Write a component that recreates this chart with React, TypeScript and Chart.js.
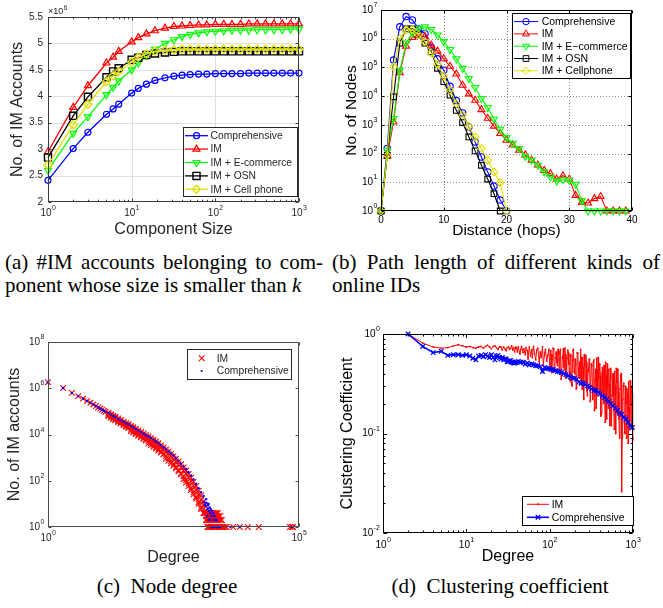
import React, { useEffect, useRef } from 'react';
import { Chart, registerables } from 'chart.js';

Chart.register(...registerables);

const SANS = '"Liberation Sans", Arial, Helvetica, sans-serif';
const SERIF = '"Liberation Serif", "Times New Roman", Times, serif';

// ================= (a) #IM accounts vs component size =================
const componentSize = [1, 2, 3, 5, 6, 7, 10, 12, 15, 19, 25, 32, 40, 50, 63, 79, 100, 126, 158, 200, 251, 316, 398, 501, 631, 794, 1000];
const aComprehensive = [2.41, 3.01, 3.32, 3.66, 3.76, 3.85, 4.06, 4.15, 4.23, 4.30, 4.35, 4.38, 4.40, 4.41, 4.42, 4.42, 4.43, 4.43, 4.43, 4.43, 4.44, 4.44, 4.44, 4.44, 4.44, 4.44, 4.44];
const aIM = [2.95, 3.79, 4.20, 4.63, 4.74, 4.85, 5.03, 5.11, 5.18, 5.24, 5.29, 5.32, 5.33, 5.34, 5.35, 5.35, 5.36, 5.36, 5.36, 5.36, 5.37, 5.37, 5.37, 5.37, 5.37, 5.37, 5.37];
const aEcommerce = [2.60, 3.30, 3.61, 4.03, 4.17, 4.29, 4.50, 4.63, 4.77, 4.89, 5.00, 5.07, 5.13, 5.17, 5.20, 5.22, 5.23, 5.24, 5.25, 5.25, 5.25, 5.26, 5.26, 5.26, 5.26, 5.27, 5.27];
const aOSN = [2.84, 3.63, 3.99, 4.36, 4.47, 4.53, 4.69, 4.73, 4.78, 4.81, 4.83, 4.84, 4.85, 4.85, 4.85, 4.85, 4.85, 4.85, 4.85, 4.85, 4.85, 4.85, 4.85, 4.85, 4.85, 4.85, 4.85];
const aCellphone = [2.70, 3.46, 3.85, 4.28, 4.39, 4.47, 4.65, 4.74, 4.80, 4.85, 4.87, 4.88, 4.89, 4.89, 4.89, 4.89, 4.89, 4.89, 4.89, 4.89, 4.89, 4.89, 4.89, 4.89, 4.89, 4.89, 4.89];
const aYTicks = [2, 2.5, 3, 3.5, 4, 4.5, 5, 5.5];
const aYTickLabels = ['2', '2.5', '3', '3.5', '4', '4.5', '5', '5.5'];
const aXTicks = [1, 10, 100, 1000];
const aXTickExp = ['0', '1', '2', '3'];

// ================= (b) path length =================
const hops = [0, 1, 2, 3, 4, 5, 6, 7, 8, 9, 10, 11, 12, 13, 14, 15, 16, 17, 18, 19, 20, 21, 22, 23, 24, 25, 26, 27, 28, 29, 30, 31, 32, 33, 34, 35, 36, 37, 38, 39];
const bComprehensive = [1, 150, 180000, 2600000, 5900000, 4500000, 2200000, 1500000, 500000, 200000, 80000, 22000, 7000, 2600, 850, 255, 76, 23, 7.4, 2.4, 1];
const bIM = [1, 83, 1260, 65000, 550000, 1100000, 1400000, 1200000, 600000, 370000, 200000, 110000, 59000, 24000, 12000, 7200, 3400, 1700, 900, 500, 290, 200, 130, 90, 59, 40, 26, 20, 13, 17, 13, 3.5, 2, 1.9, 2.7, 3.2, 1, 1, 1, 1];
const bEcommerce = [1, 130, 1660, 76000, 700000, 1600000, 2300000, 2600000, 2100000, 1350000, 790000, 420000, 200000, 93000, 41000, 20000, 8300, 4000, 1600, 700, 360, 230, 150, 80, 60, 39, 23, 15.5, 11, 12.3, 11.7, 8.5, 2.3, 1, 1, 1, 1, 1, 1, 1];
const bOSN = [1, 87, 9500, 700000, 2200000, 2200000, 1350000, 700000, 350000, 93000, 32000, 10800, 3200, 1200, 380, 124, 39, 13, 4, 1];
const bCellphone = [1, 87, 105000, 1000000, 2000000, 2100000, 1350000, 800000, 320000, 130000, 50000, 16000, 5500, 2200, 900, 380, 150, 59, 23, 9.7, 1];
const bXTicks = [0, 10, 20, 30, 40];
const bYTicks = [1, 10, 100, 1000, 10000, 100000, 1000000, 10000000];
const bYTickExp = ['0', '1', '2', '3', '4', '5', '6', '7'];

// ================= (c) node degree =================
const cDegree = [1, 2, 3, 4, 5, 6, 7, 8, 9, 10, 11, 12, 13, 14, 16, 18, 20, 22, 25, 28, 32, 36, 40, 45, 50, 56, 63, 71, 80, 89, 100, 112, 126, 141, 158, 178, 200, 224, 251, 282, 316, 355, 398, 447, 501, 562, 631, 708, 794, 891, 1000, 1122, 1259, 1413, 1585];
const cIMMid = [1820000, 1023000, 631000, 457000, 355000, 282000, 234000, 200000, 170000, 148000, 132000, 117000, 105000, 95500, 79400, 67600, 58900, 52500, 43700, 38000, 31600, 26900, 24000, 20400, 17800, 15100, 12900, 11000, 9330, 7940, 6760, 5750, 4900, 4070, 3390, 2750, 2240, 1820, 1450, 1150, 891, 676, 513, 380, 282, 200, 141, 95, 63, 40, 25, 15, 9, 5, 2];
// spread of the red band, for degrees from 16 on
const cIMLowInner = [69200, 58900, 51300, 45700, 38000, 33100, 27500, 23400, 20400, 16200, 14100, 12000, 10000, 8510, 7240, 6170, 5130, 4270, 3550, 2880, 2340, 1860, 1480, 1170, 912, 708, 537, 389, 288, 209, 155, 107, 76, 48, 32, 20, 12, 7, 4, 2, 1];
const cIMLowOuter = [63100, 53700, 46800, 41700, 34700, 30200, 25100, 21400, 19100, 14100, 12300, 10500, 8910, 7590, 6460, 5500, 4070, 3470, 2950, 2450, 2040, 1660, 1350, 912, 724, 575, 447, 339, 257, 191, 117, 83, 59, 40, 26, 17, 10, 6, 4, 2, 1];
const cIMHigh = [87100, 74100, 64600, 57500, 49000, 42700, 35500, 30900, 27500, 23400, 20400, 17800, 15100, 12900, 11000, 9330, 8130, 6920, 5890, 5010, 4170, 3390, 2750, 2240, 1820, 1450, 1150, 891, 676, 513, 380, 275, 195, 135, 91, 59, 37, 23, 13, 8, 4];
const cIMTailDegree = [1350, 1450, 1560, 1680, 1800, 1930, 2080, 2230, 2400, 1400, 1500, 1620, 1740, 1870, 2010, 2160, 2320, 2500, 2700, 1450, 1560, 1680, 1800, 1940, 2080, 2240, 2400, 2580, 2780, 2900, 1500, 1620, 1740, 1870, 2010, 2160, 2320, 2500, 2700, 2900, 3100, 3350, 3600, 4900, 6600, 9550, 15800, 66000, 72000, 75900];
const cIMTailCount = [4, 4, 4, 4, 4, 4, 4, 4, 4, 3, 3, 3, 3, 3, 3, 3, 3, 3, 3, 2, 2, 2, 2, 2, 2, 2, 2, 2, 2, 2, 1, 1, 1, 1, 1, 1, 1, 1, 1, 1, 1, 1, 1, 1, 1, 1, 1, 1, 1, 1];
const cComprehensive = [1820000, 1023000, 631000, 457000, 355000, 282000, 234000, 200000, 170000, 148000, 132000, 117000, 105000, 95500, 85100, 72400, 63100, 56200, 46800, 41700, 36300, 30900, 27500, 23400, 20400, 17400, 15100, 12900, 11000, 9330, 8320, 7080, 6030, 5010, 4270, 3470, 2820, 2340, 1860, 1510, 1230, 933, 724, 550, 417, 316, 234, 166, 112, 72, 47, 32, 22, 16, 10];
const cCompTailDegree = [1300, 1350, 1400, 1450, 1500, 1550, 1600, 1650, 1700, 1750, 1800, 1850, 1900, 1950, 2000, 2100, 2200, 2300, 2400, 2500, 2650, 1500, 1600, 1700, 1800, 2000, 2200, 4300, 6600, 72000];
const cCompTailCount = [12, 9, 8, 11, 6, 9, 5, 7, 4, 6, 3, 5, 3, 4, 2, 3, 2, 2, 1, 1, 1, 3, 2, 2, 1, 1, 1, 1, 1, 1];
const cXTicks = [1, 100000];
const cXTickExp = ['0', '5'];
const cYTicks = [1, 100, 10000, 1000000, 100000000];
const cYTickExp = ['0', '2', '4', '6', '8'];

// ================= (d) clustering coefficient =================
const dIMDegreeLow = [2, 3, 4, 5, 6, 7, 8, 9, 10, 11, 12, 13, 14, 15, 16, 17, 18, 19, 20, 21, 22, 23, 24, 25, 26, 27, 28, 29, 30, 31, 32, 33, 34, 35, 36, 37, 38, 39];
const dIMCoefLow = [1.0, 0.81, 0.74, 0.72, 0.73, 0.76, 0.78, 0.76, 0.74, 0.75, 0.73, 0.72, 0.74, 0.75, 0.72, 0.75, 0.77, 0.74, 0.71, 0.75, 0.76, 0.73, 0.70, 0.74, 0.74, 0.69, 0.74, 0.71, 0.68, 0.73, 0.74, 0.70, 0.72, 0.76, 0.69, 0.73, 0.66, 0.74];
const dIMDegreeHigh = [40, 41, 42, 44, 45, 46, 48, 49, 51, 52, 54, 55, 57, 59, 61, 62, 64, 66, 68, 70, 72, 75, 77, 79, 82, 84, 87, 89, 92, 95, 98, 101, 104, 107, 110, 113, 117, 120, 124, 128, 131, 135, 139, 144, 148, 152, 157, 162, 167, 172, 177, 182, 188, 193, 199, 205, 211, 218, 224, 231, 238, 245, 252, 260, 268, 276, 284, 293, 301, 310, 320, 329, 339, 349, 360, 370, 381, 393, 405, 417, 429, 442, 455, 469, 483, 497, 512, 528, 543, 560, 576, 594, 611, 630, 649, 668, 688, 709, 730, 752, 775, 798, 822, 846, 872, 898, 925, 953, 981, 1000];
const dIMCoefHigh = [
  0.72, 0.66, 0.74, 0.63, 0.70, 0.75, 0.65, 0.71, 0.62, 0.73,
  0.68, 0.56, 0.74, 0.60, 0.70, 0.58, 0.75, 0.63, 0.55, 0.69,
  0.72, 0.52, 0.66, 0.58, 0.74, 0.49, 0.64, 0.70, 0.53, 0.61,
  0.70, 0.45, 0.62, 0.55, 0.72, 0.42, 0.58, 0.66, 0.48, 0.64,
  0.55, 0.70, 0.38, 0.60, 0.47, 0.72, 0.36, 0.57, 0.65, 0.42,
  0.62, 0.33, 0.55, 0.70, 0.40, 0.50, 0.29, 0.64, 0.45, 0.36,
  0.58, 0.28, 0.46, 0.62, 0.33, 0.52, 0.24, 0.44, 0.56, 0.30,
  0.48, 0.22, 0.55, 0.34, 0.18, 0.42, 0.58, 0.26, 0.38, 0.16,
  0.46, 0.20, 0.34, 0.52, 0.14, 0.30, 0.44, 0.12, 0.36, 0.24,
  0.40, 0.11, 0.30, 0.45, 0.16, 0.26, 0.09, 0.38, 0.026, 0.22,
  0.32, 0.10, 0.20, 0.28, 0.08, 0.18, 0.34, 0.12, 0.25, 0.09,
];
// extra IM samples between the ones above (high-degree noise)
const dIMDegreeExtra = [100, 103, 106, 109, 112, 115, 119, 122, 126, 130, 133, 137, 142, 146, 150, 155, 160, 165, 170, 175, 180, 185, 191, 196, 202, 208, 214, 221, 228, 235, 242, 249, 256, 264, 272, 280, 289, 297, 306, 315, 325, 334, 344, 355, 365, 376, 387, 399, 411, 423, 436, 449, 462, 476, 490, 505, 520, 536, 552, 568, 585, 603, 620, 640, 659, 678, 698, 720, 741, 764, 787, 810, 834, 859, 885, 912, 939, 967, 990];
const dIMCoefExtra = [
  0.50, 0.68, 0.41, 0.60, 0.71, 0.46, 0.63, 0.52, 0.70, 0.44,
  0.66, 0.35, 0.58, 0.71, 0.44, 0.62, 0.38, 0.69, 0.50, 0.34,
  0.60, 0.30, 0.68, 0.42, 0.56, 0.28, 0.65, 0.38, 0.52, 0.70,
  0.34, 0.58, 0.22, 0.48, 0.61, 0.27, 0.42, 0.55, 0.21, 0.50,
  0.30, 0.52, 0.17, 0.44, 0.57, 0.24, 0.36, 0.50, 0.15, 0.40,
  0.26, 0.48, 0.13, 0.38, 0.50, 0.18, 0.31, 0.45, 0.12, 0.34,
  0.22, 0.42, 0.10, 0.33, 0.44, 0.14, 0.28, 0.40, 0.09, 0.30,
  0.13, 0.30, 0.09, 0.24, 0.33, 0.11, 0.20, 0.29, 0.085,
];
const dCompDegreeLow = [2, 3, 4, 5, 6, 7, 8, 9, 10, 11, 12, 13, 14, 15, 16, 17, 18, 19, 20, 21, 22, 23, 24, 25, 26, 27, 28, 29, 30, 31, 32, 33, 34, 35, 36, 37, 38, 39, 40];
const dCompCoefLow = [1.0, 0.75, 0.65, 0.67, 0.61, 0.62, 0.62, 0.61, 0.62, 0.60, 0.57, 0.55, 0.60, 0.61, 0.59, 0.62, 0.60, 0.58, 0.62, 0.58, 0.55, 0.60, 0.61, 0.58, 0.56, 0.58, 0.55, 0.56, 0.56, 0.53, 0.53, 0.54, 0.54, 0.52, 0.52, 0.51, 0.51, 0.52, 0.52];
const dCompDegreeHigh = [42, 45, 48, 51, 54, 57, 61, 64, 68, 72, 77, 82, 87, 92, 98, 104, 110, 117, 124, 131, 139, 148, 157, 167, 177, 188, 199, 211, 224, 238, 252, 268, 284, 301, 320, 339, 360, 381, 405, 429, 455, 483, 512, 543, 576, 611, 649, 688, 730, 775, 822, 872, 925, 981];
const dCompCoefHigh = [0.53, 0.52, 0.52, 0.50, 0.51, 0.49, 0.50, 0.49, 0.48, 0.48, 0.47, 0.42, 0.46, 0.45, 0.45, 0.44, 0.44, 0.43, 0.42, 0.42, 0.41, 0.40, 0.39, 0.38, 0.37, 0.36, 0.36, 0.35, 0.33, 0.32, 0.32, 0.31, 0.30, 0.29, 0.28, 0.27, 0.27, 0.26, 0.25, 0.24, 0.23, 0.22, 0.21, 0.20, 0.19, 0.18, 0.17, 0.16, 0.155, 0.145, 0.14, 0.13, 0.12, 0.115];
const dXTicks = [1, 10, 100, 1000];
const dXTickExp = ['0', '1', '2', '3'];
const dYTicks = [0.01, 0.1, 1];
const dYTickExp = ['-2', '-1', '0'];

// ================= helpers =================
type Tick = { v: number; b?: string; e?: string; minor?: boolean };
interface LegendItem { label: string; color: string; style: string; r: number; mlw: number; line: number }
interface LegendCfg { x: number; y: number; w: number; h: number; rows: number[]; lx1: number; lx2: number; mx: number; tx: number; font: number; border: string; items: LegendItem[] }
interface PanelCfg {
  id: string; ox: number; oy: number; xTicks: Tick[]; yTicks: Tick[];
  grid: { color: string; dash: number[] } | null;
  axis: string; text: string; tickLen: number; minorLen: number; tickFont: number; expFont: number;
  xLabelDy: number; yLabelGap: number; title: number; xTitle: string; yTitle: string; xTitleDy: number; yTitleX: number;
  legend: LegendCfg; mult?: { x: number; y: number; b: string; e: string; font: number; expFont: number };
}

const pts = (xs: number[], ys: number[]) => ys.map((y, i) => ({ x: xs[i], y }));

function logTicks(majors: number[], exps: string[], minors: boolean): Tick[] {
  const t: Tick[] = majors.map((v, i) => ({ v, b: '10', e: exps[i] }));
  if (minors) for (let i = 0; i < majors.length - 1; i++) for (let k = 2; k <= 9; k++) t.push({ v: majors[i] * k, minor: true });
  return t;
}

function drawMarker(ctx: CanvasRenderingContext2D, style: string, x: number, y: number, r: number, color: string, lw: number) {
  ctx.save();
  ctx.strokeStyle = color; ctx.fillStyle = color; ctx.lineWidth = lw; ctx.setLineDash([]);
  ctx.beginPath();
  if (style === 'circle') { ctx.arc(x, y, r, 0, Math.PI * 2); ctx.stroke(); }
  else if (style === 'dot') { ctx.arc(x, y, r, 0, Math.PI * 2); ctx.fill(); }
  else if (style === 'triangle' || style === 'triangleDown') {
    const s = style === 'triangle' ? 1 : -1;
    ctx.moveTo(x, y - s * r); ctx.lineTo(x + 0.866 * r, y + s * 0.5 * r); ctx.lineTo(x - 0.866 * r, y + s * 0.5 * r); ctx.closePath(); ctx.stroke();
  } else if (style === 'rect') { const h = r * Math.SQRT1_2; ctx.rect(x - h, y - h, 2 * h, 2 * h); ctx.stroke(); }
  else if (style === 'rectRot') { ctx.moveTo(x, y - r); ctx.lineTo(x + r, y); ctx.lineTo(x, y + r); ctx.lineTo(x - r, y); ctx.closePath(); ctx.stroke(); }
  else if (style === 'crossRot') { const h = r * Math.SQRT1_2; ctx.moveTo(x - h, y - h); ctx.lineTo(x + h, y + h); ctx.moveTo(x + h, y - h); ctx.lineTo(x - h, y + h); ctx.stroke(); }
  ctx.restore();
}

function seg(ctx: CanvasRenderingContext2D, x1: number, y1: number, x2: number, y2: number) {
  ctx.beginPath(); ctx.moveTo(x1, y1); ctx.lineTo(x2, y2); ctx.stroke();
}

function drawTickLabel(ctx: CanvasRenderingContext2D, t: Tick, x: number, y: number, align: string, cfg: PanelCfg) {
  const bf = `${cfg.tickFont}px ${SANS}`; const ef = `${cfg.expFont}px ${SANS}`;
  ctx.font = bf; const wb = ctx.measureText(t.b || '').width;
  let we = 0;
  if (t.e) { ctx.font = ef; we = ctx.measureText(t.e).width; }
  const total = wb + we;
  const x0 = align === 'center' ? x - total / 2 : x - total;
  ctx.textAlign = 'left'; ctx.textBaseline = 'middle';
  ctx.font = bf; ctx.fillText(t.b || '', x0, y);
  if (t.e) { ctx.font = ef; ctx.fillText(t.e, x0 + wb + 0.3, y - cfg.tickFont * 0.48); }
}

function makePanelPlugin(cfg: PanelCfg) {
  return {
    id: 'panel' + cfg.id,
    beforeDatasetsDraw(chart: any) {
      if (!cfg.grid) return;
      const { ctx, chartArea: a } = chart; const xs = chart.scales.x, ys = chart.scales.y;
      ctx.save(); ctx.strokeStyle = cfg.grid.color; ctx.lineWidth = 1; ctx.setLineDash(cfg.grid.dash);
      for (const t of cfg.xTicks) {
        if (t.minor) continue;
        const px = Math.round(xs.getPixelForValue(t.v)) + 0.5;
        if (px <= a.left + 1 || px >= a.right - 1) continue;
        seg(ctx, px, a.top, px, a.bottom);
      }
      for (const t of cfg.yTicks) {
        if (t.minor) continue;
        const py = Math.round(ys.getPixelForValue(t.v)) + 0.5;
        if (py <= a.top + 1 || py >= a.bottom - 1) continue;
        seg(ctx, a.left, py, a.right, py);
      }
      ctx.restore();
    },
    afterDatasetsDraw(chart: any) {
      const { ctx, chartArea: a } = chart; const xs = chart.scales.x, ys = chart.scales.y;
      ctx.save();
      ctx.setLineDash([]);
      ctx.strokeStyle = cfg.axis; ctx.lineWidth = 1;
      const L = Math.round(a.left) + 0.5, R = Math.round(a.right) - 0.5, T = Math.round(a.top) + 0.5, B = Math.round(a.bottom) - 0.5;
      ctx.strokeRect(L, T, R - L, B - T);
      for (const t of cfg.xTicks) {
        const px = Math.round(xs.getPixelForValue(t.v)) + 0.5; const len = t.minor ? cfg.minorLen : cfg.tickLen;
        seg(ctx, px, B, px, B - len); seg(ctx, px, T, px, T + len);
      }
      for (const t of cfg.yTicks) {
        const py = Math.round(ys.getPixelForValue(t.v)) + 0.5; const len = t.minor ? cfg.minorLen : cfg.tickLen;
        seg(ctx, L, py, L + len, py); seg(ctx, R, py, R - len, py);
      }
      ctx.fillStyle = cfg.text;
      for (const t of cfg.xTicks) if (t.b) drawTickLabel(ctx, t, xs.getPixelForValue(t.v), a.bottom + cfg.xLabelDy, 'center', cfg);
      for (const t of cfg.yTicks) if (t.b) drawTickLabel(ctx, t, a.left - cfg.yLabelGap, ys.getPixelForValue(t.v), 'right', cfg);
      ctx.font = `${cfg.title}px ${SANS}`; ctx.textAlign = 'center'; ctx.textBaseline = 'middle';
      ctx.fillText(cfg.xTitle, (a.left + a.right) / 2, a.bottom + cfg.xTitleDy);
      ctx.save(); ctx.translate(cfg.yTitleX - cfg.ox, (a.top + a.bottom) / 2); ctx.rotate(-Math.PI / 2); ctx.fillText(cfg.yTitle, 0, 0); ctx.restore();
      if (cfg.mult) {
        const m = cfg.mult;
        ctx.font = `${m.font}px ${SANS}`; ctx.textAlign = 'left'; ctx.textBaseline = 'middle';
        const w = ctx.measureText(m.b).width;
        ctx.fillText(m.b, m.x - cfg.ox, m.y - cfg.oy);
        ctx.font = `${m.expFont}px ${SANS}`; ctx.fillText(m.e, m.x - cfg.ox + w + 0.5, m.y - cfg.oy - m.font * 0.45);
      }
      const lg = cfg.legend;
      const lx = Math.round(lg.x - cfg.ox), ly = Math.round(lg.y - cfg.oy);
      ctx.fillStyle = '#fff'; ctx.fillRect(lx, ly, lg.w, lg.h);
      ctx.strokeStyle = lg.border; ctx.lineWidth = 1; ctx.strokeRect(lx + 0.5, ly + 0.5, lg.w, lg.h);
      lg.items.forEach((it, i) => {
        const y = lg.rows[i] - cfg.oy;
        if (it.line > 0) { ctx.strokeStyle = it.color; ctx.lineWidth = it.line; seg(ctx, lg.lx1 - cfg.ox, y, lg.lx2 - cfg.ox, y); }
        drawMarker(ctx, it.style, lg.mx - cfg.ox, y, it.r, it.color, it.mlw);
        ctx.fillStyle = cfg.text; ctx.font = `${lg.font}px ${SANS}`; ctx.textAlign = 'left'; ctx.textBaseline = 'middle';
        ctx.fillText(it.label, lg.tx - cfg.ox, y + 0.5);
      });
      ctx.restore();
    },
  };
}

function lineSet(label: string, data: any[], color: string, style: string, r: number, lw: number, order: number, mlw?: number) {
  const ps = style === 'triangleDown' ? 'triangle' : style === 'dot' ? 'circle' : style;
  return {
    label, data, order, showLine: true, clip: false,
    borderColor: color, backgroundColor: color, borderWidth: lw,
    pointStyle: ps, pointRotation: style === 'triangleDown' ? 180 : 0, pointRadius: r,
    pointBorderColor: color, pointBackgroundColor: style === 'dot' ? color : 'rgba(0,0,0,0)', pointBorderWidth: mlw ?? lw,
  };
}

function makeOptions(xType: string, xMin: number, xMax: number, yType: string, yMin: number, yMax: number, padding: any) {
  return {
    responsive: false, animation: false as const, devicePixelRatio: 1, events: [],
    layout: { padding },
    plugins: { legend: { display: false }, tooltip: { enabled: false } },
    elements: { line: { tension: 0 } },
    scales: {
      x: { type: xType, min: xMin, max: xMax, display: false },
      y: { type: yType, min: yMin, max: yMax, display: false },
    },
  };
}

const BLUE = '#0000ff', RED = '#ff0000', GREEN = '#00ff00', BLACK = '#000000', YELLOW = '#e0e000';

// ---------- panel configs ----------
function configA() {
  const cfg: PanelCfg = {
    id: 'a', ox: 0, oy: 0,
    xTicks: logTicks(aXTicks, aXTickExp, true),
    yTicks: aYTicks.map((v, i) => ({ v, b: aYTickLabels[i] })),
    grid: { color: '#e0e0e0', dash: [] },
    axis: '#3a3a3a', text: '#262626', tickLen: 3, minorLen: 1.8, tickFont: 10, expFont: 7,
    xLabelDy: 11, yLabelGap: 5, title: 16, xTitle: 'Component Size', yTitle: 'No. of IM Accounts', xTitleDy: 28, yTitleX: 18,
    mult: { x: 48, y: 12, b: '\u00d710', e: '6', font: 9, expFont: 6.5 },
    legend: {
      x: 183, y: 127, w: 114, h: 69, rows: [135.7, 149.1, 162.5, 175.9, 189.3], lx1: 185, lx2: 208, mx: 196.5, tx: 210.5, font: 10.3, border: '#262626',
      items: [
        { label: 'Comprehensive', color: BLUE, style: 'circle', r: 3, mlw: 1.2, line: 1.3 },
        { label: 'IM', color: RED, style: 'triangle', r: 4, mlw: 1.2, line: 1.3 },
        { label: 'IM + E-commerce', color: GREEN, style: 'triangleDown', r: 4, mlw: 1.2, line: 1.3 },
        { label: 'IM + OSN', color: BLACK, style: 'rect', r: 5, mlw: 1.4, line: 1.3 },
        { label: 'IM + Cell phone', color: YELLOW, style: 'rectRot', r: 4, mlw: 1.4, line: 1.3 },
      ],
    },
  };
  return {
    type: 'scatter',
    data: {
      datasets: [
        lineSet('IM + Cell phone', pts(componentSize, aCellphone), YELLOW, 'rectRot', 4, 1.3, 0, 1.4),
        lineSet('IM + OSN', pts(componentSize, aOSN), BLACK, 'rect', 5, 1.3, 1, 1.4),
        lineSet('IM + E-commerce', pts(componentSize, aEcommerce), GREEN, 'triangleDown', 4, 1.3, 2, 1.2),
        lineSet('IM', pts(componentSize, aIM), RED, 'triangle', 4, 1.3, 3, 1.2),
        lineSet('Comprehensive', pts(componentSize, aComprehensive), BLUE, 'circle', 3, 1.3, 4, 1.2),
      ],
    },
    options: makeOptions('logarithmic', 1, 1000, 'linear', 2, 5.5, { left: 48, top: 17, right: 32, bottom: 46 }),
    plugins: [makePanelPlugin(cfg)],
  };
}

function configB() {
  const cfg: PanelCfg = {
    id: 'b', ox: 331, oy: 0,
    xTicks: bXTicks.map((v) => ({ v, b: String(v) })),
    yTicks: logTicks(bYTicks, bYTickExp, false),
    grid: { color: '#8c8c8c', dash: [1, 2] },
    axis: '#000', text: '#000', tickLen: 3, minorLen: 1.5, tickFont: 10, expFont: 7,
    xLabelDy: 9, yLabelGap: 4, title: 15.5, xTitle: 'Distance (hops)', yTitle: 'No. of Nodes', xTitleDy: 20, yTitleX: 352,
    legend: {
      x: 512, y: 13, w: 118, h: 65, rows: [21.6, 33.9, 46.2, 58.5, 70.8], lx1: 514, lx2: 538, mx: 526, tx: 541.7, font: 10.5, border: '#000',
      items: [
        { label: 'Comprehensive', color: BLUE, style: 'circle', r: 3.2, mlw: 1, line: 1 },
        { label: 'IM', color: RED, style: 'triangle', r: 4, mlw: 1, line: 1 },
        { label: 'IM + E\u2212commerce', color: GREEN, style: 'triangleDown', r: 4, mlw: 1, line: 1 },
        { label: 'IM + OSN', color: BLACK, style: 'rect', r: 4, mlw: 1, line: 1 },
        { label: 'IM + Cellphone', color: YELLOW, style: 'rectRot', r: 3.8, mlw: 1, line: 1 },
      ],
    },
  };
  return {
    type: 'scatter',
    data: {
      datasets: [
        lineSet('IM + Cellphone', pts(hops, bCellphone), YELLOW, 'rectRot', 3.8, 1.1, 0),
        lineSet('IM + OSN', pts(hops, bOSN), BLACK, 'rect', 4, 1.1, 1),
        lineSet('IM + E-commerce', pts(hops, bEcommerce), GREEN, 'triangleDown', 4, 1.1, 2),
        lineSet('IM', pts(hops, bIM), RED, 'triangle', 4, 1.1, 3),
        lineSet('Comprehensive', pts(hops, bComprehensive), BLUE, 'circle', 3.2, 1.1, 4),
      ],
    },
    options: makeOptions('linear', 0, 40, 'logarithmic', 1, 10000000, { left: 50, top: 10, right: 31, bottom: 37 }),
    plugins: [makePanelPlugin(cfg)],
  };
}

function configC() {
  const cfg: PanelCfg = {
    id: 'c', ox: 0, oy: 300,
    xTicks: logTicks(cXTicks, cXTickExp, false),
    yTicks: logTicks(cYTicks, cYTickExp, false),
    grid: null,
    axis: '#4a4a4a', text: '#262626', tickLen: 3, minorLen: 1.5, tickFont: 10, expFont: 7,
    xLabelDy: 11, yLabelGap: 4, title: 16, xTitle: 'Degree', yTitle: 'No. of IM accounts', xTitleDy: 31, yTitleX: 15,
    legend: {
      x: 187, y: 349, w: 104, h: 30, rows: [358.3, 371], lx1: 0, lx2: 0, mx: 201.7, tx: 216.7, font: 10.3, border: '#262626',
      items: [
        { label: 'IM', color: RED, style: 'crossRot', r: 4, mlw: 1.1, line: 0 },
        { label: 'Comprehensive', color: BLUE, style: 'dot', r: 1.1, mlw: 1, line: 0 },
      ],
    },
  };
  const high = cDegree.slice(14);
  const imData = [
    ...pts(cDegree, cIMMid), ...pts(high, cIMLowInner), ...pts(high, cIMLowOuter), ...pts(high, cIMHigh),
    ...pts(cIMTailDegree, cIMTailCount),
  ];
  const compData = [...pts(cDegree, cComprehensive), ...pts(cCompTailDegree, cCompTailCount)];
  return {
    type: 'scatter',
    data: {
      datasets: [
        { label: 'Comprehensive', data: compData, order: 0, clip: false, pointStyle: 'circle', pointRadius: 1.2, pointBorderWidth: 0, pointBackgroundColor: BLUE, pointBorderColor: BLUE, showLine: false },
        { label: 'IM', data: imData, order: 1, clip: false, pointStyle: 'crossRot', pointRadius: 4, pointBorderWidth: 1.1, pointBorderColor: RED, pointBackgroundColor: RED, showLine: false },
      ],
    },
    options: makeOptions('logarithmic', 1, 100000, 'logarithmic', 1, 100000000, { left: 48, top: 42, right: 32, bottom: 41 }),
    plugins: [makePanelPlugin(cfg)],
  };
}

function configD() {
  const cfg: PanelCfg = {
    id: 'd', ox: 331, oy: 300,
    xTicks: logTicks(dXTicks, dXTickExp, true),
    yTicks: logTicks(dYTicks, dYTickExp, true),
    grid: null,
    axis: '#000', text: '#000', tickLen: 3.5, minorLen: 2, tickFont: 10, expFont: 7,
    xLabelDy: 12, yLabelGap: 3.5, title: 16, xTitle: 'Degree', yTitle: 'Clustering Coefficient', xTitleDy: 24, yTitleX: 348,
    legend: {
      x: 522, y: 496, w: 111, h: 29, rows: [504.3, 517.3], lx1: 527, lx2: 549, mx: 538, tx: 551.7, font: 10.4, border: '#000',
      items: [
        { label: 'IM', color: RED, style: 'dot', r: 1, mlw: 1, line: 1 },
        { label: 'Comprehensive', color: BLUE, style: 'crossRot', r: 3.2, mlw: 1.3, line: 1.6 },
      ],
    },
  };
  const imData = [...pts(dIMDegreeLow, dIMCoefLow), ...pts(dIMDegreeHigh, dIMCoefHigh), ...pts(dIMDegreeExtra, dIMCoefExtra)]
    .sort((p, q) => p.x - q.x);
  const compData = [...pts(dCompDegreeLow, dCompCoefLow), ...pts(dCompDegreeHigh, dCompCoefHigh)];
  return {
    type: 'scatter',
    data: {
      datasets: [
        lineSet('Comprehensive', compData, BLUE, 'crossRot', 3.2, 1.6, 0, 1.3),
        lineSet('IM', imData, RED, 'dot', 0.9, 1, 1, 0),
      ],
    },
    options: makeOptions('logarithmic', 1, 1000, 'logarithmic', 0.01, 1, { left: 52, top: 34, right: 30, bottom: 35 }),
    plugins: [makePanelPlugin(cfg)],
  };
}

function Panel({ left, top, width, height, make }: { left: number; top: number; width: number; height: number; make: () => any }) {
  const ref = useRef<HTMLCanvasElement>(null);
  useEffect(() => {
    const chart = new Chart(ref.current as HTMLCanvasElement, make());
    return () => chart.destroy();
  }, []);
  return (
    <div style={{ position: 'absolute', left, top, width, height }}>
      <canvas ref={ref} width={width} height={height} style={{ width, height, display: 'block' }} />
    </div>
  );
}

const cap: React.CSSProperties = { position: 'absolute', fontFamily: SERIF, fontSize: 21, lineHeight: '23px', color: '#000', margin: 0 };

export default function App() {
  return (
    <div style={{ position: 'absolute', left: 0, top: 0, width: 663, height: 608, background: '#fff', overflow: 'hidden' }}>
      <Panel left={0} top={0} width={331} height={248} make={configA} />
      <Panel left={331} top={0} width={332} height={248} make={configB} />
      <Panel left={0} top={300} width={331} height={268} make={configC} />
      <Panel left={331} top={300} width={332} height={268} make={configD} />
      <div style={{ ...cap, left: 5, top: 251, width: 318, textAlign: 'justify', textAlignLast: 'justify' }}>(a) #IM accounts belonging to com-</div>
      <div style={{ ...cap, left: 5, top: 274, whiteSpace: 'nowrap' }}>ponent whose size is smaller than <i>k</i></div>
      <div style={{ ...cap, left: 332, top: 251, width: 328, textAlign: 'justify', textAlignLast: 'justify' }}>(b) Path length of different kinds of</div>
      <div style={{ ...cap, left: 332, top: 274, whiteSpace: 'nowrap' }}>online IDs</div>
      <div style={{ ...cap, left: 17, top: 575, width: 300, textAlign: 'center', whiteSpace: 'nowrap' }}>(c)&#8194;Node degree</div>
      <div style={{ ...cap, left: 350, top: 575, width: 300, textAlign: 'center', whiteSpace: 'nowrap' }}>(d)&#8194;Clustering coefficient</div>
    </div>
  );
}
